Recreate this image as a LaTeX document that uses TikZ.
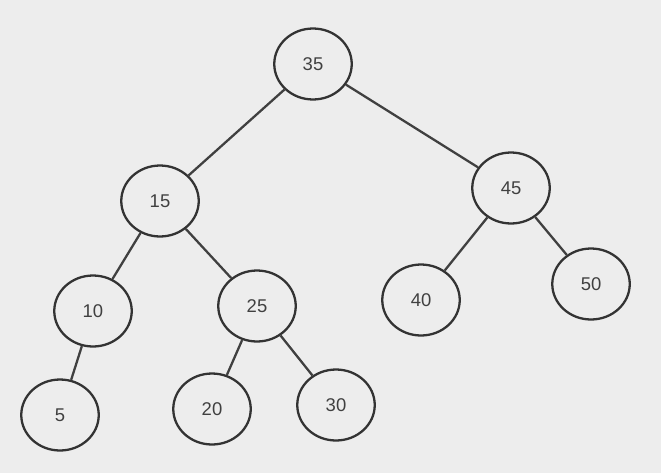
\documentclass[tikz,border=0pt]{standalone}
\usepackage{fontspec}
\setmainfont{Liberation Sans}
\usetikzlibrary{shapes.geometric}
\begin{document}
\begin{tikzpicture}[x=0.02cm,y=-0.02cm,
  tn/.style={ellipse,draw=black!80,line width=1.3pt,minimum width=1.55cm,minimum height=1.42cm,inner sep=0pt,font=\fontsize{10.5}{12}\selectfont,text=black!75},
  ed/.style={draw=black!75,line width=1.3pt}]
\fill[black!7] (0,0) rectangle (661,473);
\useasboundingbox (0,0) rectangle (661,473);
\node[tn] (n35) at (313,64) {35};
\node[tn] (n15) at (160,201) {15};
\node[tn] (n45) at (511,188) {45};
\node[tn] (n10) at (93,311) {10};
\node[tn] (n25) at (257,306) {25};
\node[tn] (n40) at (421,300) {40};
\node[tn] (n50) at (591,284) {50};
\node[tn] (n5) at (60,415) {5};
\node[tn] (n20) at (212,409) {20};
\node[tn] (n30) at (336,405) {30};
\draw[ed] (n35)--(n15); \draw[ed] (n35)--(n45);
\draw[ed] (n15)--(n10); \draw[ed] (n15)--(n25);
\draw[ed] (n45)--(n40); \draw[ed] (n45)--(n50);
\draw[ed] (n10)--(n5);
\draw[ed] (n25)--(n20); \draw[ed] (n25)--(n30);
\end{tikzpicture}
\end{document}
